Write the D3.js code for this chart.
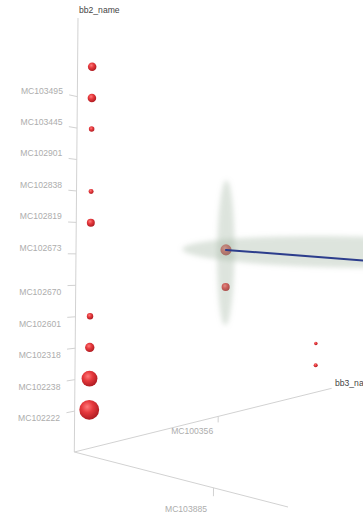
<!DOCTYPE html>
<html>
<head>
<meta charset="utf-8">
<script src="https://cdn.jsdelivr.net/npm/d3@7"></script>
<style>
  html, body { margin: 0; padding: 0; background: #fff; overflow: hidden; }
  text { font-family: "Liberation Sans", Arial, sans-serif; }
</style>
</head>
<body>
<svg id="chart" width="363" height="512"></svg>
<script>
// ---- data -------------------------------------------------------------
// bb2 levels, bottom to top; the topmost level has no tick label
const bb2Labels = ["MC102222", "MC102238", "MC102318", "MC102601", "MC102670",
                   "MC102673", "MC102819", "MC102838", "MC102901", "MC103445",
                   "MC103495", ""];
const bb3Labels = ["", "MC100356", ""];
const bb1Labels = ["", "MC103885"];

// markers: category index on each axis, plus a weight that sets the size
const ptBb3    = [0, 0, 0, 0, 0, 0, 0, 0, 0, 0, 0, 2, 2];
const ptBb2    = [11, 10, 9, 7, 6, 3, 2, 1, 0, 5, 4, 1, 0];
const ptBb1    = [0, 0, 0, 0, 0, 0, 0, 0, 0, 1, 1, 0, 0];
const ptWeight = [18.5, 18.5, 7.8, 6.3, 16, 10.2, 22, 64, 100, 22, 11.6, 6.2, 8.4];

// spread ellipsoids: centre (bb3, bb2, bb1) and semi-axes in index units
const ellCenter  = [[0, 4.92, 1], [1.5, 5, 1]];
const ellSemiBb3 = [0.055, 1.76];
const ellSemiBb2 = [1.95, 0.55];

// trend segment (bb3, bb2, bb1 at each end)
const lineBb3 = [0, 4];
const lineBb2 = [5, 4];
const lineBb1 = [1, 1];

// ---- scene ------------------------------------------------------------
const W = 363, H = 512;
const svg = d3.select("#chart");

// category index -> unit cube coordinate
const sx = d3.scaleLinear().domain([-0.065, 2.26]).range([0, 1]);   // bb3
const sy = d3.scaleLinear().domain([-1.3, 12.5]).range([0, 1]);     // bb2
const sz = d3.scaleLinear().domain([-0.035, 1.4227]).range([0, 1]); // bb1
const rScale = d3.scaleSqrt().domain([0, 100]).range([0, 10]);

// perspective camera: screen images of the cube corner and the three axis ends
const O  = [74.3, 452];
const XE = [331.7, 388.3];
const YE = [78, 18];
const ZE = [288, 507];
const persp = { x: 0.5, y: 0, z: -0.2366 };

function project(x, y, z) {
  const D = 1 + persp.x * x + persp.y * y + persp.z * z;
  const n = [0, 1].map(k =>
    O[k]
    + x * ((1 + persp.x) * XE[k] - O[k])
    + y * ((1 + persp.y) * YE[k] - O[k])
    + z * ((1 + persp.z) * ZE[k] - O[k]));
  return [n[0] / D, n[1] / D, D];
}
const P = (i3, i2, i1) => project(sx(i3), sy(i2), sz(i1));

const defs = svg.append("defs");
const ball = defs.append("radialGradient").attr("id", "ball")
  .attr("cx", 0.4).attr("cy", 0.35).attr("r", 0.65);
ball.append("stop").attr("offset", 0).attr("stop-color", "#ff7a7a");
ball.append("stop").attr("offset", 0.45).attr("stop-color", "#e6393d");
ball.append("stop").attr("offset", 1).attr("stop-color", "#b01c22");
defs.append("filter").attr("id", "soft")
  .attr("x", "-30%").attr("y", "-30%").attr("width", "160%").attr("height", "160%")
  .append("feGaussianBlur").attr("stdDeviation", 2.4);

const axisColor = "#d2d2d2", tickText = "#adadad", titleColor = "#444";
const line = d3.line();

// axis lines
const gAxes = svg.append("g").attr("stroke", axisColor).attr("stroke-width", 1).attr("fill", "none");
[[1, 0, 0], [0, 1, 0], [0, 0, 1]].forEach(e => {
  gAxes.append("path").attr("d", line([project(0, 0, 0), project(...e)].map(p => [p[0], p[1]])));
});

// bb2 ticks and labels (placed outward along -bb3, pushed away from the view centre)
bb2Labels.forEach((lab, i) => {
  if (!lab) return;
  const a = project(0, sy(i), 0), b = project(-0.021, sy(i), 0), t = project(-0.088, sy(i), 0);
  gAxes.append("path").attr("d", line([[a[0], a[1]], [b[0], b[1]]]));
  const push = a[1] < H / 2 ? -6.2 : 6.8;
  svg.append("text").attr("x", t[0]).attr("y", a[1] + push).attr("dy", "0.36em")
    .attr("text-anchor", "middle").attr("font-size", 8.6).attr("fill", tickText).text(lab);
});

// bb3 ticks
bb3Labels.forEach((lab, i) => {
  if (!lab) return;
  const a = project(sx(i), 0, 0), b = project(sx(i), -0.017, 0);
  gAxes.append("path").attr("d", line([[a[0], a[1]], [b[0], b[1]]]));
  svg.append("text").attr("x", a[0] - 5).attr("y", a[1] + 17.3)
    .attr("text-anchor", "end").attr("font-size", 8.6).attr("fill", tickText).text(lab);
});

// bb1 ticks
bb1Labels.forEach((lab, i) => {
  if (!lab) return;
  const a = project(0, 0, sz(i)), b = project(0, -0.016, sz(i));
  gAxes.append("path").attr("d", line([[a[0], a[1]], [b[0], b[1]]]));
  svg.append("text").attr("x", a[0] - 6.5).attr("y", a[1] + 24.5)
    .attr("text-anchor", "end").attr("font-size", 8.6).attr("fill", tickText).text(lab);
});

// axis titles
const yTop = project(0, 1, 0), xEnd = project(1, 0, 0);
svg.append("text").attr("x", yTop[0] + 1).attr("y", yTop[1] - 5)
  .attr("font-size", 8.6).attr("fill", titleColor).text("bb2_name");
svg.append("text").attr("x", xEnd[0] + 3.3).attr("y", xEnd[1] - 2)
  .attr("font-size", 8.6).attr("fill", titleColor).text("bb3_name");

// markers, far ones first
const pts = ptBb2.map((_, i) => {
  const p = P(ptBb3[i], ptBb2[i], ptBb1[i]);
  return { x: p[0], y: p[1], D: p[2], r: rScale(ptWeight[i]) / p[2] };
}).sort((a, b) => b.D - a.D);
svg.append("g").selectAll("circle").data(pts).join("circle")
  .attr("cx", d => d.x).attr("cy", d => d.y).attr("r", d => d.r)
  .attr("fill", "url(#ball)");

// translucent spread ellipsoids
const gEll = svg.append("g").attr("filter", "url(#soft)");
ellCenter.forEach((c, k) => {
  const ring = d3.range(0, 73).map(j => {
    const t = j / 72 * 2 * Math.PI;
    const p = P(c[0] + ellSemiBb3[k] * Math.cos(t), c[1] + ellSemiBb2[k] * Math.sin(t), c[2]);
    return [p[0], p[1]];
  });
  gEll.append("path").attr("d", line(ring) + "Z")
    .attr("fill", "#9caf9c").attr("fill-opacity", 0.34);
});

// trend segment
const seg = lineBb3.map((_, i) => P(lineBb3[i], lineBb2[i], lineBb1[i])).map(p => [p[0], p[1]]);
svg.append("path").attr("d", line(seg))
  .attr("stroke", "#2c3d8c").attr("stroke-width", 2).attr("fill", "none")
  .attr("stroke-linecap", "round");
</script>
</body>
</html>
